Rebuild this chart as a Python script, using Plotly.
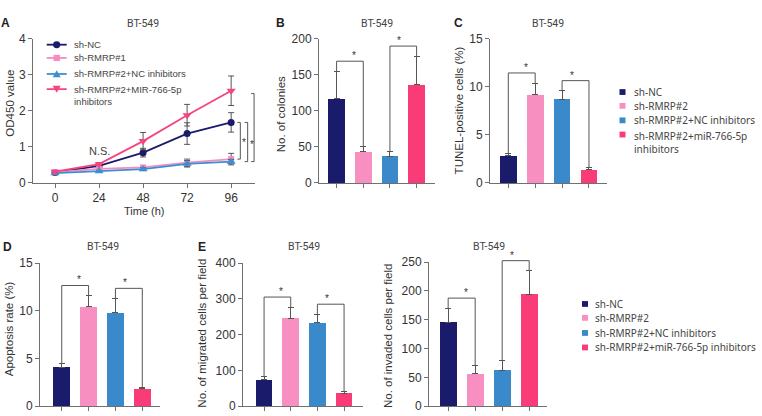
import plotly.graph_objects as go

W, H = 762, 416

# ---------------- data ----------------
# Panel A: CCK-8 growth curves (OD450)
time_h = [0, 24, 48, 72, 96]
a_series = ["sh-NC", "sh-RMRP#1", "sh-RMRP#2+NC inhibitors", "sh-RMRP#2+MIR-766-5p inhibitors"]
a_nc = [0.29, 0.47, 0.84, 1.37, 1.68]
a_nc_err = [0.03, 0.04, 0.12, 0.30, 0.27]
a_r1 = [0.30, 0.39, 0.43, 0.56, 0.66]
a_r1_err = [0.02, 0.03, 0.05, 0.10, 0.16]
a_r2nc = [0.27, 0.32, 0.38, 0.53, 0.59]
a_r2nc_err = [0.02, 0.03, 0.04, 0.09, 0.06]
a_mir = [0.31, 0.52, 1.16, 1.88, 2.56]
a_mir_err = [0.03, 0.04, 0.24, 0.30, 0.41]

# Bar panels (groups)
groups = ["sh-NC", "sh-RMRP#2", "sh-RMRP#2+NC inhibitors", "sh-RMRP#2+miR-766-5p inhibitors"]
b_colonies = [117, 43, 37, 136]
b_colonies_err = [38, 8, 7, 40]
c_tunel = [2.8, 9.2, 8.7, 1.35]
c_tunel_err = [0.3, 1.2, 0.9, 0.2]
d_apoptosis = [4.1, 10.4, 9.8, 1.8]
d_apoptosis_err = [0.4, 1.2, 1.5, 0.2]
e_migrated = [74, 246, 233, 36]
e_migrated_err = [8, 31, 24, 4]
e_invaded = [145, 56, 62, 194]
e_invaded_err = [25, 15, 17, 41]
sig_pairs = [(0, 1), (2, 3)]

# ---------------- styles ----------------
bar_colors = ["#1b1b6b", "#f78fc0", "#3a8acb", "#f93c78"]
line_colors = ["#1b1b6b", "#f48cbf", "#3d8fd3", "#f5457e"]
symbols = ["circle", "square", "triangle-up", "triangle-down"]
msizes = [7, 6, 8, 8]
AX = "#707070"
TXT = "#333"
TICKFONT = dict(family="Liberation Sans", size=12, color=TXT)
STARFONT = dict(family="Liberation Sans", size=10, color="#333")


def dx(a, b):
    return [a / W, b / W]


def dy(top, bottom):
    return [1 - bottom / H, 1 - top / H]


def px(x):
    return x / W


def py(y):
    return 1 - y / H


fig = go.Figure()

# ---------------- Panel A ----------------
a_data = [(a_nc, a_nc_err), (a_r1, a_r1_err), (a_r2nc, a_r2nc_err), (a_mir, a_mir_err)]
for k, (vals, errs) in enumerate(a_data):
    fig.add_trace(go.Scatter(
        x=time_h, y=vals, mode="lines+markers", name=a_series[k],
        line=dict(color=line_colors[k], width=1.8),
        marker=dict(symbol=symbols[k], size=msizes[k], color=line_colors[k]),
        error_y=dict(type="data", array=errs, color="#555", thickness=1, width=3),
        xaxis="x", yaxis="y", showlegend=False, cliponaxis=False))

axis_common = dict(showline=True, linecolor=AX, linewidth=1, ticks="outside", ticklen=4,
                   tickcolor=AX, tickwidth=1, showgrid=False, zeroline=False, tickfont=TICKFONT)

fig.update_layout(
    xaxis=dict(domain=dx(33, 255), range=[-12, 109], tickvals=time_h, anchor="y", **axis_common),
    yaxis=dict(domain=dy(33, 182), range=[0, 4], dtick=1, anchor="x", **axis_common),
)

# ---------------- bar panels ----------------
bar_panels = [
    # ax suffix, x dom px, y dom px (top, bottom), xrange, yrange, dtick, vals, errs
    ("2", (319, 435), (33, 182), [-0.66, 3.69], [0, 200], 50, b_colonies, b_colonies_err),
    ("3", (490, 607), (33, 182), [-0.68, 3.67], [0, 15], 5, c_tunel, c_tunel_err),
    ("4", (40, 160), (265, 413), [-0.81, 3.66], [0, 15], 5, d_apoptosis, d_apoptosis_err),
    ("5", (243, 363), (265, 413), [-0.79, 3.71], [0, 400], 100, e_migrated, e_migrated_err),
    ("6", (429, 547), (264, 413), [-0.71, 3.66], [0, 250], 50, e_invaded, e_invaded_err),
]

layout_axes = {}
for suf, xd, ydm, xr, yr, dt, vals, errs in bar_panels:
    fig.add_trace(go.Bar(
        x=list(range(len(groups))), y=vals, width=0.62,
        marker=dict(color=bar_colors, line=dict(width=0)),
        error_y=dict(type="data", symmetric=False, array=errs, arrayminus=[0] * len(errs),
                     color="#555", thickness=1, width=3),
        xaxis="x" + suf, yaxis="y" + suf, showlegend=False, hovertext=groups))
    layout_axes["xaxis" + suf] = dict(domain=dx(*xd), range=xr, tickvals=list(range(len(groups))),
                                     showticklabels=False, anchor="y" + suf, **axis_common)
    layout_axes["yaxis" + suf] = dict(domain=dy(*ydm), range=yr, dtick=dt, anchor="x" + suf,
                                     **axis_common)

    # significance brackets (domain-relative so they are never clipped)
    tops = [v + e for v, e in zip(vals, errs)]
    pad = 0.07 * yr[1]
    fx = lambda v, xr=xr: (v - xr[0]) / (xr[1] - xr[0])
    fy = lambda v, yr=yr: (v - yr[0]) / (yr[1] - yr[0])
    for i, j in sig_pairs:
        h = max(tops[i], tops[j]) + pad
        path = (f"M {fx(i)} {fy(tops[i])} L {fx(i)} {fy(h)} "
                f"L {fx(j)} {fy(h)} L {fx(j)} {fy(tops[j])}")
        fig.add_shape(type="path", path=path, xref="x" + suf + " domain", yref="y" + suf + " domain",
                      line=dict(color="#555", width=1))
        fig.add_annotation(x=fx((i + j) / 2), y=fy(h), xref="x" + suf + " domain",
                           yref="y" + suf + " domain", text="*", showarrow=False,
                           yanchor="bottom", yshift=-2, font=STARFONT)

fig.update_layout(**layout_axes)

# Panel A brackets at 96 h
a_brackets = [(101.0, a_nc[-1], a_r1[-1]), (105.0, a_nc[-1], a_r2nc[-1]), (108.5, a_mir[-1] - 0.08, a_r2nc[-1])]
for xb, y1, y2 in a_brackets:
    arm = 1.6
    fig.add_shape(type="path",
                  path=f"M {xb - arm} {y1} L {xb} {y1} L {xb} {y2} L {xb - arm} {y2}",
                  xref="x", yref="y", line=dict(color="#555", width=1))
    fig.add_annotation(x=xb + 2.2, y=(y1 + y2) / 2, xref="x", yref="y", text="*", showarrow=False,
                       yshift=-2, font=STARFONT)

fig.add_annotation(x=24, y=0.89, xref="x", yref="y", text="N.S.", showarrow=False,
                   font=dict(family="Liberation Sans", size=11, color="#444"))

# ---------------- texts ----------------
def text(x, y, s, size=10, color="#444", family="Roboto", bold=False, angle=0, xanchor="center",
         yanchor="middle", align="center"):
    if bold:
        s = "<b>" + s + "</b>"
    fig.add_annotation(x=px(x), y=py(y), xref="paper", yref="paper", text=s, showarrow=False,
                       textangle=angle, xanchor=xanchor, yanchor=yanchor, align=align,
                       font=dict(family=family, size=size, color=color))


# panel letters
for lab, x, y in [("A", 5, 17), ("B", 280.5, 17), ("C", 458, 17), ("D", 7, 248), ("E", 202, 248)]:
    text(x, y, lab, size=12, color="#222", family="Liberation Sans", bold=True)

# panel titles
for x, y in [(143, 17), (377, 17), (548, 17), (102.5, 248), (304, 248), (489, 248)]:
    text(x, y, "BT-549", size=10.5, color="#444")

# axis titles
ytitles = [
    (10, 100, "OD450 value"),
    (281, 111, "No. of colonies"),
    (459, 107, "TUNEL-positive cells (%)"),
    (8.5, 333, "Apoptosis rate (%)"),
    (202, 338, "No. of migrated cells per field"),
    (387.5, 340, "No. of invaded cells per field"),
]
for x, y, s in ytitles:
    text(x, y, s, size=11.5, color=TXT, family="Liberation Sans", angle=-90)
text(144, 211, "Time (h)", size=11, color=TXT, family="Liberation Sans")

# ---------------- manual legends ----------------
# Legend for panel A (line + marker glyphs)
a_leg_rows = [39, 52.7, 69.3, 85]
for k, yrow in enumerate(a_leg_rows):
    fig.add_shape(type="line", x0=px(46.7), x1=px(66.7), y0=py(yrow), y1=py(yrow),
                  xref="paper", yref="paper", line=dict(color=line_colors[k], width=1.8))
    cx = 56.7
    if symbols[k] == "circle":
        fig.add_shape(type="circle", x0=px(cx - 3.6), x1=px(cx + 3.6), y0=py(yrow + 3.6), y1=py(yrow - 3.6),
                      xref="paper", yref="paper", fillcolor=line_colors[k], line=dict(width=0))
    elif symbols[k] == "square":
        fig.add_shape(type="rect", x0=px(cx - 3.2), x1=px(cx + 3.2), y0=py(yrow + 3.2), y1=py(yrow - 3.2),
                      xref="paper", yref="paper", fillcolor=line_colors[k], line=dict(width=0))
    else:
        s = 1 if symbols[k] == "triangle-up" else -1
        path = (f"M {px(cx - 4)} {py(yrow + 3.4 * s)} L {px(cx + 4)} {py(yrow + 3.4 * s)} "
                f"L {px(cx)} {py(yrow - 3.8 * s)} Z")
        fig.add_shape(type="path", path=path, xref="paper", yref="paper",
                      fillcolor=line_colors[k], line=dict(width=0))
    name = a_series[k]
    if k == 3:
        name = "sh-RMRP#2+MIR-766-5p<br>inhibitors"
        text(71.7, yrow - 7.5, name, size=9.5, color="#444", family="Liberation Sans",
             xanchor="left", yanchor="top", align="left")
    else:
        text(71.7, yrow, name, size=9.5, color="#444", family="Liberation Sans", xanchor="left")


def square_legend(xsq, xtxt, rows, labels, wrap_last):
    for k, yrow in enumerate(rows):
        fig.add_shape(type="rect", x0=px(xsq - 3), x1=px(xsq + 3), y0=py(yrow + 3), y1=py(yrow - 3),
                      xref="paper", yref="paper", fillcolor=bar_colors[k], line=dict(width=0))
        lab = labels[k]
        if wrap_last and k == len(rows) - 1:
            lab = lab.replace(" inhibitors", "<br>inhibitors")
            text(xtxt, yrow - 7.5, lab, size=10, color="#444", family="Noto Sans",
                 xanchor="left", yanchor="top", align="left")
        else:
            text(xtxt, yrow, lab, size=10, color="#444", family="Noto Sans", xanchor="left")


square_legend(622.5, 631.7, [88, 102.3, 117.3, 132], groups, True)
square_legend(585, 592.7, [307.3, 321.7, 337.3, 352.3], groups, False)

fig.update_layout(width=W, height=H, margin=dict(l=0, r=0, t=0, b=0),
                  paper_bgcolor="white", plot_bgcolor="white", showlegend=False,
                  bargap=0)

fig.write_html("out.html")
